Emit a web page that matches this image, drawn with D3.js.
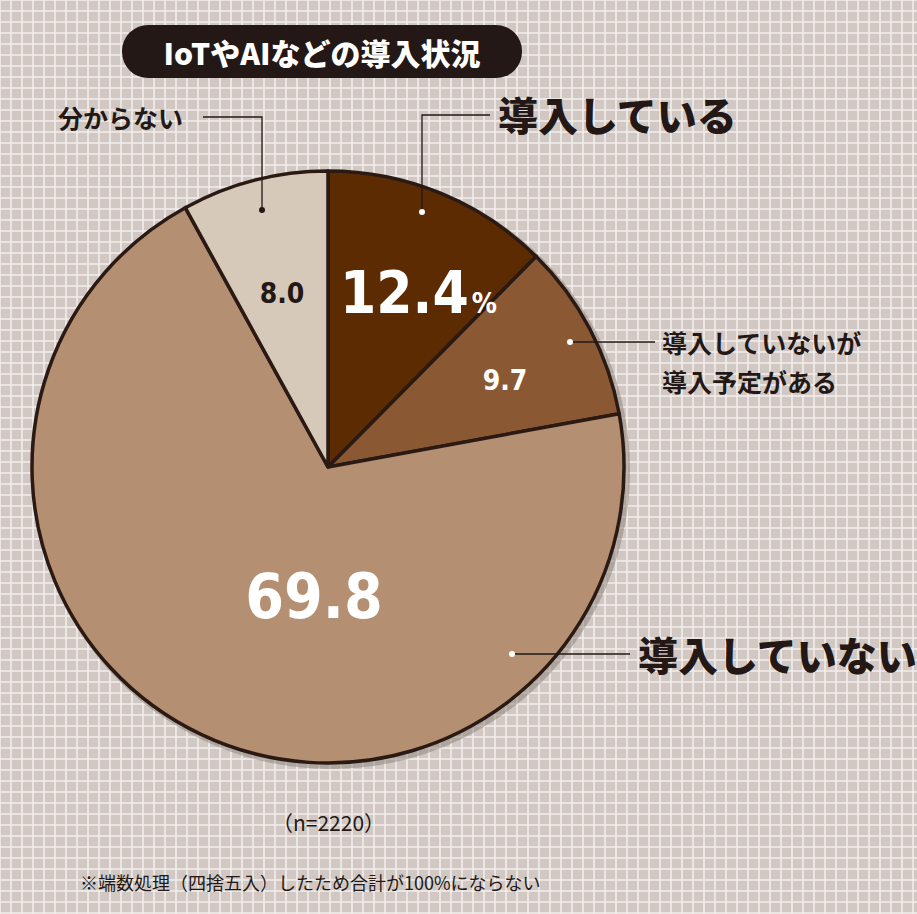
<!DOCTYPE html>
<html><head><meta charset="utf-8">
<script src="https://cdn.jsdelivr.net/npm/d3@7"></script>
<style>body{margin:0;background:#d3cbc6}</style>
</head><body>
<svg id="chart" width="917" height="914"></svg>
<script>
// data
var categories = ["導入している", "導入していないが導入予定がある", "導入していない", "分からない"];
var values = [12.4, 9.7, 69.8, 8.0];
var labels = ["12.4", "9.7", "69.8", "8.0"];
var colors = ["#5c2b02", "#8a5934", "#b48f71", "#d6c9b9"];

var svg = d3.select("#chart");
var W = 917, H = 914;

// grid background
svg.append("rect").attr("width", W).attr("height", H).attr("fill", "#d1c8c3");
var g = svg.append("g");
d3.range(0, W, 11).forEach(function(x) {
  g.append("line").attr("x1", x).attr("x2", x).attr("y1", 0).attr("y2", H)
    .attr("stroke", "#f2eeec").attr("stroke-width", 1.6);
});
d3.range(0, H, 11).forEach(function(y) {
  g.append("line").attr("y1", y).attr("y2", y).attr("x1", 0).attr("x2", W)
    .attr("stroke", "#f2eeec").attr("stroke-width", 1.6);
});

// pie
var cx = 328, cy = 467, r = 296;
var pie = d3.pie().sort(null).value(d => d);
var arc = d3.arc().innerRadius(0).outerRadius(r);
var pg = svg.append("g").attr("transform", "translate(" + cx + "," + cy + ")");
pg.append("circle").attr("r", r + 3).attr("cx", 3).attr("cy", 3).attr("fill", "#8c7f79").attr("opacity", 0.5);
var arcs = pie(values);
pg.selectAll("path").data(arcs).enter().append("path")
  .attr("d", arc).attr("fill", (d, i) => colors[i])
  .attr("stroke", "#2a1a13").attr("stroke-width", 3.5).attr("stroke-linejoin", "round");

var numFont = "'DejaVu Sans Condensed', 'DejaVu Sans', sans-serif";
var jpFont = "'Noto Sans CJK JP', sans-serif";

// value labels
var pct = svg.append("text").attr("x", 340).attr("y", 313).attr("fill", "#fff")
  .attr("font-family", numFont).attr("font-weight", "bold").attr("font-size", 58);
pct.append("tspan").text(labels[0]);
pct.append("tspan").attr("font-size", 28).attr("dx", 3).text("%");
svg.append("text").attr("x", 505).attr("y", 390).attr("text-anchor", "middle").text(labels[1])
  .attr("fill", "#fff").attr("font-family", numFont).attr("font-weight", "bold").attr("font-size", 28);
svg.append("text").attr("x", 314).attr("y", 618).attr("text-anchor", "middle").text(labels[2])
  .attr("fill", "#fff").attr("font-family", numFont).attr("font-weight", "bold").attr("font-size", 62);
svg.append("text").attr("x", 282).attr("y", 303).attr("text-anchor", "middle").text(labels[3])
  .attr("fill", "#231815").attr("font-family", numFont).attr("font-weight", "bold").attr("font-size", 28);

// leaders
function leader(pts, dot) {
  svg.append("path").attr("d", d3.line()(pts)).attr("fill", "none").attr("stroke", "#231815").attr("stroke-width", 1.3);
  svg.append("circle").attr("cx", dot[0]).attr("cy", dot[1]).attr("r", 3).attr("fill", dot[2]);
}
leader([[490, 115], [422, 115], [422, 212]], [422, 212, "#fff"]);
leader([[203, 117], [262, 117], [262, 210]], [262, 210, "#231815"]);
leader([[570, 342], [655, 342]], [570, 342, "#fff"]);
leader([[512, 654], [630, 654]], [512, 654, "#fff"]);

function jp(x, y, t, size, weight) {
  svg.append("text").attr("x", x).attr("y", y).attr("dominant-baseline", "central").text(t)
    .attr("fill", "#231815").attr("font-family", jpFont).attr("font-weight", weight).attr("font-size", size);
}
jp(498, 114, categories[0], 40, 900);
jp(662, 342, "導入していないが", 25, 700);
jp(662, 381, "導入予定がある", 25, 700);
jp(638, 654, categories[2], 40, 900);
jp(58, 117, categories[3], 25, 700);

// title pill
svg.append("rect").attr("x", 122).attr("y", 25).attr("width", 400).attr("height", 53).attr("rx", 26)
  .attr("fill", "#231815");
svg.append("text").attr("x", 322).attr("y", 52).attr("text-anchor", "middle").attr("dominant-baseline", "central")
  .text("IoTやAIなどの導入状況").attr("fill", "#fff").attr("font-family", jpFont)
  .attr("font-weight", 900).attr("font-size", 30);

// notes
jp(272, 822, "（n=2220）", 21, 400);
jp(80, 882, "※端数処理（四捨五入）したため合計が100%にならない", 18, 400);
</script>
</body></html>
